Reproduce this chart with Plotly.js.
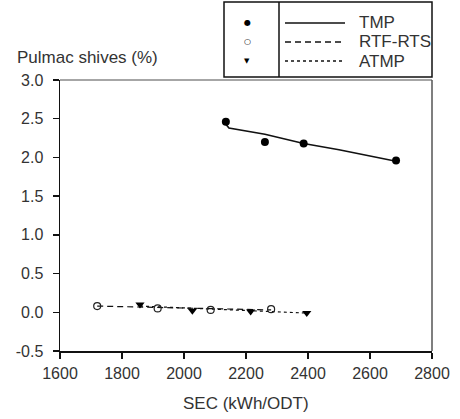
<!DOCTYPE html>
<html><head><meta charset="utf-8">
<script src="https://cdn.plot.ly/plotly-3.0.1.min.js"></script>
<style>html,body{margin:0;padding:0;background:#fff}#c{width:460px;height:419px}</style>
</head><body><div id="c"></div>
<script>
// TMP
const tmpX = [2135, 2261, 2386, 2684];
const tmpY = [2.46, 2.20, 2.18, 1.96];
const tmpFitX = [2135, 2145, 2261, 2386, 2500, 2684];
const tmpFitY = [2.43, 2.38, 2.30, 2.18, 2.10, 1.95];
// RTF-RTS
const rtfX = [1720, 1915, 2086, 2281];
const rtfY = [0.08, 0.05, 0.03, 0.04];
const rtfFitX = [1720, 2281];
const rtfFitY = [0.08, 0.03];
// ATMP
const atmpX = [1858, 2027, 2215, 2396];
const atmpY = [0.10, 0.02, 0.01, -0.01];
const atmpFitX = [1858, 2396];
const atmpFitY = [0.08, -0.01];
// axis ticks
const xTicks = [1600, 1800, 2000, 2200, 2400, 2600, 2800];
const yTicks = [-0.5, 0.0, 0.5, 1.0, 1.5, 2.0, 2.5, 3.0];
const legendNames = ['TMP', 'RTF-RTS', 'ATMP'];

const traces = [
  {x: tmpFitX, y: tmpFitY, mode: 'lines', line: {color: '#111', width: 1.6}},
  {x: rtfFitX, y: rtfFitY, mode: 'lines', line: {color: '#111', width: 1.2, dash: '6px,4px'}},
  {x: atmpFitX, y: atmpFitY, mode: 'lines', line: {color: '#111', width: 1.2, dash: 'dot'}},
  {x: tmpX, y: tmpY, mode: 'markers', marker: {symbol: 'circle', size: 8, color: '#000'}},
  {x: rtfX, y: rtfY, mode: 'markers', marker: {symbol: 'circle-open', size: 7, color: '#222', line: {width: 1.2}}},
  {x: atmpX, y: atmpY, mode: 'markers', marker: {symbol: 'triangle-down', size: 8, color: '#000'}}
];

const FAM = 'Liberation Sans, Arial, sans-serif';
const tickFont = {family: FAM, size: 16, color: '#333'};
const titleFont = {family: FAM, size: 17, color: '#333'};
const rowsY = [23, 42, 61];
const shapes = [
  {type: 'line', xref: 'paper', yref: 'paper', x0: 0, x1: 1, y0: 1, y1: 1, line: {color: '#888', width: 1.5}},
  {type: 'line', xref: 'paper', yref: 'paper', x0: 1, x1: 1, y0: 0, y1: 1, line: {color: '#555', width: 1.5}},
  {type: 'rect', xref: 'paper', yref: 'paper', x0: (224-60)/372, x1: 1, y0: (351-2)/271, y1: (351-77)/271, line: {color: '#111', width: 1.5}, fillcolor: 'rgba(0,0,0,0)'},
  {type: 'line', xref: 'paper', yref: 'paper', x0: (279-60)/372, x1: (279-60)/372, y0: (351-2)/271, y1: (351-77)/271, line: {color: '#111', width: 1.5}}
];
const dashes = ['solid', '6px,4px', 'dot'];
const annotations = [
  {text: 'Pulmac shives (%)', xref: 'paper', yref: 'paper', x: (15-60)/372, y: (351-57)/271, xanchor: 'left', yanchor: 'middle', showarrow: false, font: titleFont},
  {text: 'SEC (kWh/ODT)', xref: 'paper', yref: 'paper', x: (246-60)/372, y: (351-403)/271, xanchor: 'center', yanchor: 'middle', showarrow: false, font: titleFont}
];
const symbols = ['●', '○', '▼'];
const symSizes = [8, 8, 7];
legendNames.forEach((n, i) => {
  const yp = (351 - rowsY[i]) / 271;
  shapes.push({type: 'line', xref: 'paper', yref: 'paper', x0: (285-60)/372, x1: (345-60)/372, y0: yp, y1: yp, line: {color: '#111', width: i === 0 ? 1.6 : 1.3, dash: dashes[i]}});
  annotations.push({text: n, xref: 'paper', yref: 'paper', x: (357-60)/372, y: yp, xanchor: 'left', yanchor: 'middle', showarrow: false, font: titleFont});
  annotations.push({text: symbols[i], xref: 'paper', yref: 'paper', x: (247-60)/372, y: yp, xanchor: 'center', yanchor: 'middle', showarrow: false, font: {family: 'DejaVu Sans, sans-serif', size: symSizes[i], color: '#000'}});
});

const layout = {
  width: 460, height: 419,
  margin: {l: 60, r: 28, t: 80, b: 68},
  paper_bgcolor: '#fff', plot_bgcolor: '#fff',
  showlegend: false,
  xaxis: {range: [1600, 2800], tickvals: xTicks, ticktext: xTicks.map(String), ticks: 'outside', ticklen: 6, tickwidth: 1.5, tickcolor: '#111',
    ticklabelstandoff: 1, showline: true, linecolor: '#111', linewidth: 1.5, showgrid: false, zeroline: false, tickfont: tickFont},
  yaxis: {range: [-0.5, 3.0], tickvals: yTicks, ticktext: yTicks.map(v => v.toFixed(1)), ticks: 'outside', ticklen: 6, tickwidth: 1.5, tickcolor: '#111',
    ticklabelstandoff: 6, showline: true, linecolor: '#111', linewidth: 1.5, showgrid: false, zeroline: false, tickfont: tickFont},
  shapes: shapes,
  annotations: annotations
};
Plotly.newPlot('c', traces, layout, {displayModeBar: false, staticPlot: true});
</script></body></html>
